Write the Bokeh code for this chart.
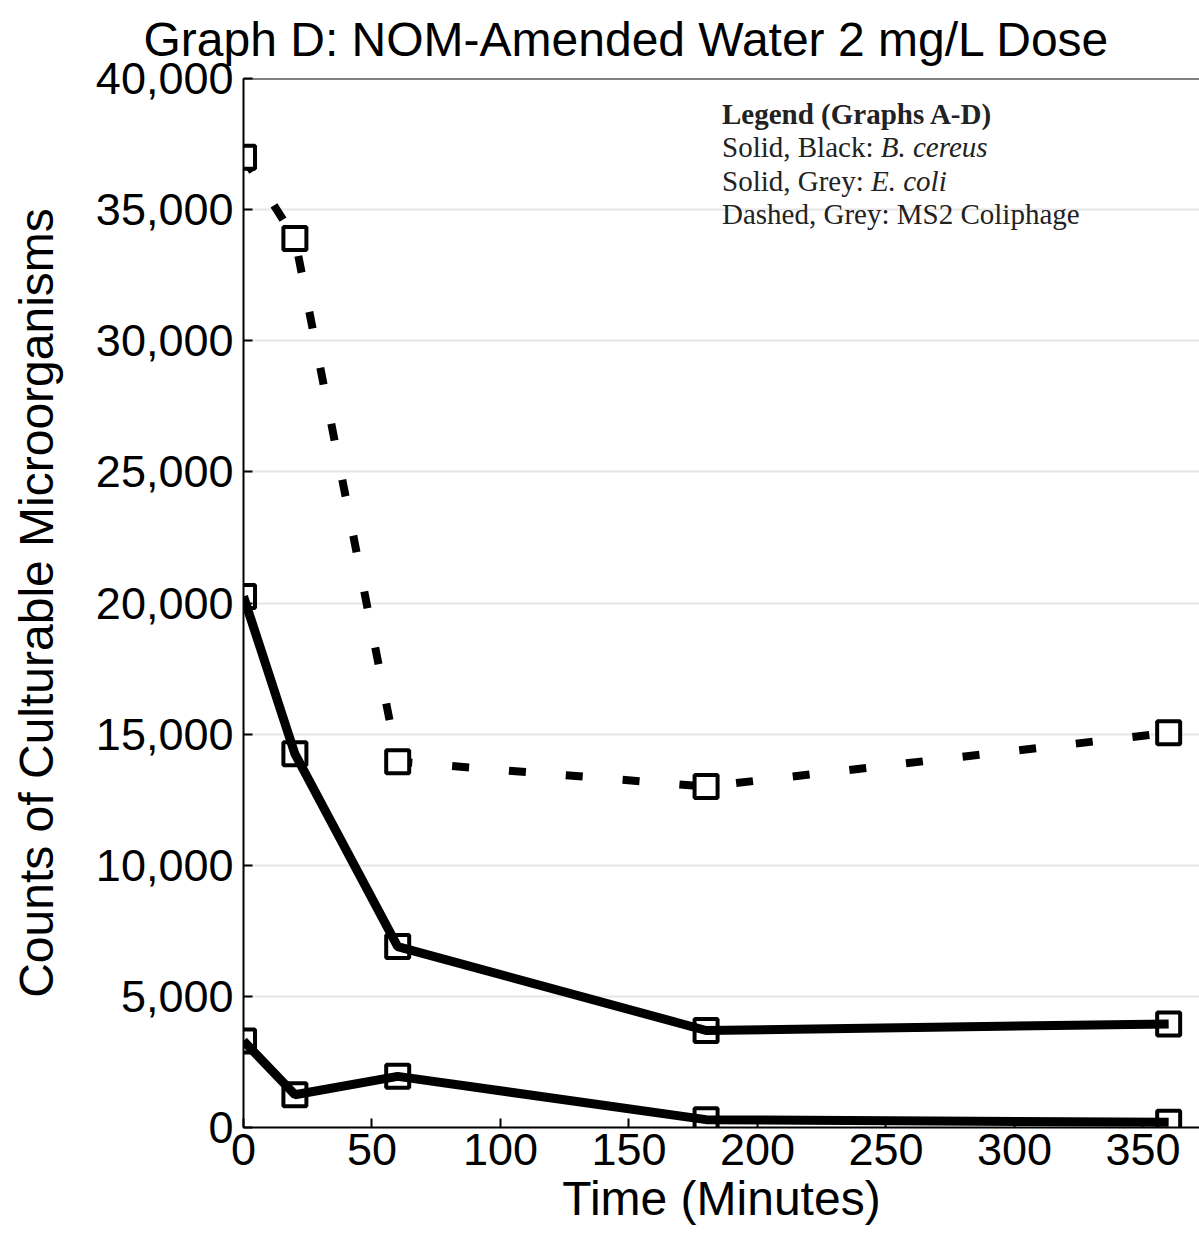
from bokeh.plotting import figure
from bokeh.models import Range1d, FixedTicker, NumeralTickFormatter, Span, Label
from bokeh.embed import file_html
from bokeh.resources import INLINE

# ---- data ----
times = [0, 20, 60, 180, 360]
ms2_coliphage = [37000, 33900, 13950, 13000, 15050]
b_cereus = [20250, 14250, 6900, 3700, 3950]
e_coli = [3300, 1250, 1950, 300, 200]
x_ticks = [0, 50, 100, 150, 200, 250, 300, 350]
y_ticks = [0, 5000, 10000, 15000, 20000, 25000, 30000, 35000, 40000]
grid_ticks = [5000, 10000, 15000, 20000, 25000, 30000, 35000]

title_text = "Graph D: NOM-Amended Water 2 mg/L Dose"
x_title = "Time (Minutes)"
y_title = "Counts of Culturable Microorganisms"
legend_title = "Legend (Graphs A-D)"
legend_rows = [("Solid, Black:", "B. cereus"), ("Solid, Grey:", "E. coli"),
               ("Dashed, Grey: MS2 Coliphage", "")]

SANS = "Liberation Sans"
SERIF = "Liberation Serif"

p = figure(width=1199, height=1243, output_backend="svg", toolbar_location=None,
           x_range=Range1d(0, 372), y_range=Range1d(0, 40000),
           min_border_left=243, min_border_right=0, min_border_top=78,
           min_border_bottom=116, background_fill_color="white",
           border_fill_color="white")

p.title.text = title_text
p.title.text_font = SANS
p.title.text_font_size = "48px"
p.title.text_font_style = "normal"
p.title.text_color = "black"
p.title.align = "left"
p.title.vertical_align = "top"
p.title.offset = -100
p.title.standoff = 22

p.outline_line_color = None
p.add_layout(Span(location=40000, dimension="width", line_color="black", line_width=2))

# axes
for ax in (p.xaxis[0], p.yaxis[0]):
    ax.axis_line_width = 2
    ax.axis_line_color = "black"
    ax.major_tick_in = 9
    ax.major_tick_out = 0
    ax.major_tick_line_width = 2
    ax.minor_tick_line_color = None
    ax.major_label_text_font = SANS
    ax.major_label_text_font_size = "45px"
    ax.major_label_text_color = "black"
    ax.axis_label_text_font = SANS
    ax.axis_label_text_font_size = "48px"
    ax.axis_label_text_font_style = "normal"
    ax.axis_label_text_color = "black"

p.xaxis.ticker = FixedTicker(ticks=x_ticks)
p.yaxis.ticker = FixedTicker(ticks=y_ticks)
p.yaxis.formatter = NumeralTickFormatter(format="0,0")
p.xaxis.axis_label = x_title
p.yaxis.axis_label = y_title
p.xaxis.major_label_standoff = 6
p.xaxis.axis_label_standoff = 4
p.yaxis.major_label_standoff = 10
p.yaxis.axis_label_standoff = 30

p.xgrid.visible = False
p.ygrid.ticker = FixedTicker(ticks=grid_ticks)
p.ygrid.grid_line_color = "#e6e6e6"
p.ygrid.grid_line_width = 2

# series
p.line(times, ms2_coliphage, line_color="black", line_width=8, line_dash="17 40")
p.line(times, b_cereus, line_color="black", line_width=9)
p.line(times, e_coli, line_color="black", line_width=9)
p.scatter(times, ms2_coliphage, marker="square", size=23, line_width=4,
          line_color="black", fill_color="white")
p.scatter(times, b_cereus, marker="square", size=23, line_width=4,
          line_color="black", fill_color=None)
p.scatter(times, e_coli, marker="square", size=23, line_width=4,
          line_color="black", fill_color=None)

# legend text block
lx = 186.2
ly = [38630, 37370, 36075, 34820]
p.add_layout(Label(x=lx, y=ly[0], text=legend_title, text_font=SERIF,
                   text_font_size="29px", text_font_style="bold",
                   text_baseline="middle", text_color="#222222"))
offsets = [158.7, 149.0]
for i, (plain, ital) in enumerate(legend_rows):
    p.add_layout(Label(x=lx, y=ly[i + 1], text=plain, text_font=SERIF,
                       text_font_size="29px", text_baseline="middle",
                       text_color="#222222"))
    if ital:
        p.add_layout(Label(x=lx, y=ly[i + 1], x_offset=offsets[i], text=ital,
                           text_font=SERIF, text_font_size="29px",
                           text_font_style="italic", text_baseline="middle",
                           text_color="#222222"))

open("out.html", "w").write(file_html(p, INLINE))
